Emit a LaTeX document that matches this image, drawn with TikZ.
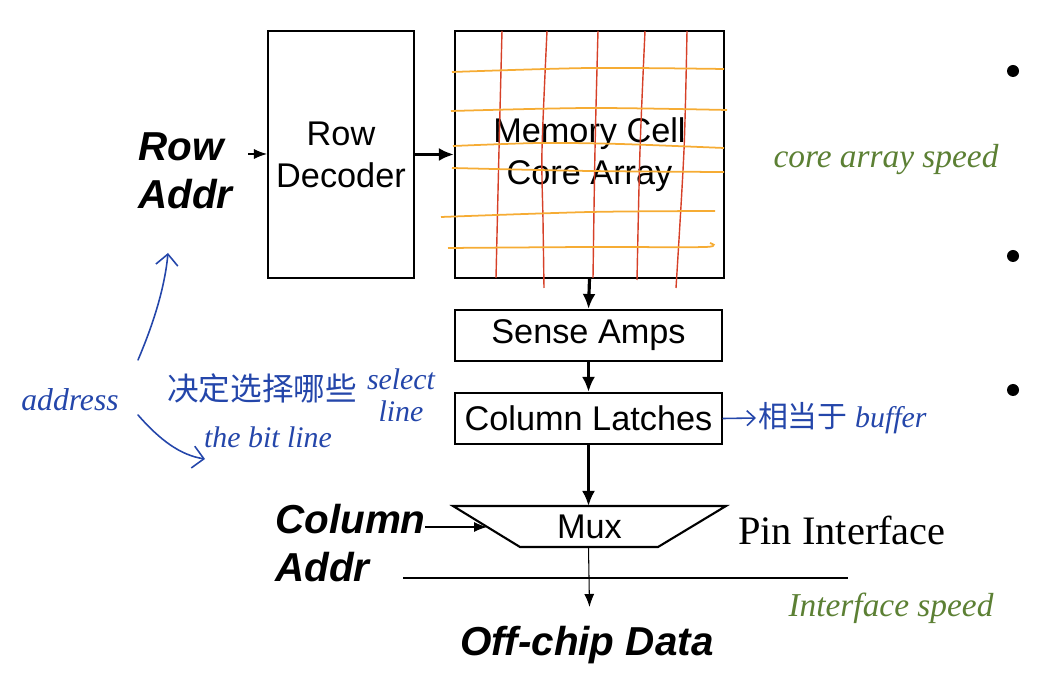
\documentclass[tikz,border=0pt]{standalone}
\usepackage{fontspec}
\setmainfont{Liberation Sans}
\newfontfamily\pinfont{Liberation Serif}
\newfontfamily\cjk{Noto Sans CJK SC}
\usetikzlibrary{arrows.meta}
\definecolor{inkblue}{RGB}{36,70,170}
\definecolor{inkgreen}{RGB}{92,128,52}
\definecolor{bitred}{RGB}{214,64,40}
\definecolor{wordorange}{RGB}{246,172,52}
\tikzset{
  block/.style={draw, line width=1.2pt, align=center, inner sep=0pt, font=\fontsize{19.5}{24}\selectfont},
  addr/.style={align=left, font=\fontsize{23}{27}\selectfont\bfseries\itshape},
  bus/.style={-{Latex[length=3mm,width=2.6mm]}, line width=1.8pt},
  wire/.style={-{Latex[length=2.6mm,width=2mm]}, line width=0.6pt},
  ink/.style={inkblue, font=\fontsize{17}{18}\selectfont\pinfont\itshape},
  greenink/.style={inkgreen, font=\fontsize{19}{21}\selectfont\pinfont\itshape},
  scrawl/.style={inkblue, line width=0.9pt, line cap=round, -{Straight Barb[length=2.2mm,width=4.4mm]}},
  bitline/.style={bitred, line width=0.8pt, smooth},
  wordline/.style={wordorange, line width=1pt, smooth}
}
\begin{document}
\begin{tikzpicture}
\useasboundingbox (0,0) rectangle (20.92,-13.52);
\node[block, minimum width=2.92cm, minimum height=4.94cm] (rowdec) at (6.82,-3.09) {Row\\Decoder};
\node[block, minimum width=5.38cm, minimum height=4.94cm] (memcell) at (11.79,-3.09) {Memory Cell\\Core Array};
\node[block, minimum width=5.34cm, minimum height=1.02cm] (sense) at (11.77,-6.71) {Sense Amps};
\node[block, minimum width=5.34cm, minimum height=1.02cm] (latches) at (11.77,-8.37) {Column Latches};
% mux trapezoid
\coordinate (muxtl) at (9.06,-10.12);
\coordinate (muxtr) at (14.52,-10.12);
\coordinate (muxbr) at (13.16,-10.94);
\coordinate (muxbl) at (10.40,-10.94);
\draw[line width=1.2pt] (muxtl) -- (muxtr) -- (muxbr) -- (muxbl) -- cycle;
\node[font=\fontsize{19.5}{24}\selectfont] (mux) at (11.79,-10.54) {Mux};
\node[addr, anchor=west] (rowaddr) at (2.64,-3.42) {Row\\Addr};
\node[addr, anchor=west] (coladdr) at (5.38,-10.86) {Column\\Addr};
\node[addr] (offchip) at (11.74,-12.9) {Off-chip Data};
\node[font=\fontsize{23}{27}\selectfont\pinfont] (pin) at (16.84,-10.6) {Pin Interface};
\coordinate (rowin) at (4.96,-3.08);
\coordinate (colin) at (8.5,-10.54);
\coordinate (muxin) at (9.74,-10.54);
\coordinate (dataout) at (11.79,-12.14);
\coordinate (pinl) at (8.06,-11.56);
\coordinate (pinr) at (16.96,-11.56);
\draw[wire] (rowin) -- (rowin -| rowdec.west);
\draw[bus] (rowdec.east) -- (memcell.west);
\draw[bus] (memcell.south) -- (sense.north);
\draw[bus] (sense.south) -- (latches.north);
\draw[bus] (latches.south) -- (latches.south |- muxtl);
\draw[wire] (colin) -- (muxin);
\draw[wire] (latches.south |- muxbl) -- (dataout);
\draw[line width=0.7pt] (pinl) -- (pinr);
% bit lines and word lines
\draw[bitline] plot coordinates {(10.04,-0.62) (9.98,-3.0) (9.92,-5.56)};
\draw[bitline] plot coordinates {(10.94,-0.62) (10.84,-3.0) (10.86,-4.4) (10.88,-5.76)};
\draw[bitline] plot coordinates {(11.96,-0.62) (11.9,-3.0) (11.86,-5.56)};
\draw[bitline] plot coordinates {(12.9,-0.62) (12.8,-3.0) (12.74,-5.6)};
\draw[bitline] plot coordinates {(13.74,-0.62) (13.68,-3.0) (13.52,-5.76)};
\draw[wordline] plot coordinates {(9.04,-1.44) (11.8,-1.36) (14.48,-1.38)};
\draw[wordline] plot coordinates {(9.02,-2.22) (11.8,-2.16) (14.54,-2.2)};
\draw[wordline] plot coordinates {(9.06,-2.92) (10.8,-2.86) (12.4,-2.88) (14.48,-2.96)};
\draw[wordline] plot coordinates {(9.04,-3.36) (11.8,-3.42) (14.48,-3.44)};
\draw[wordline] plot coordinates {(8.82,-4.34) (11.8,-4.24) (14.3,-4.22)};
\draw[wordline] plot coordinates {(8.96,-4.96) (11.8,-4.94) (14.1,-4.94) (14.2,-4.86)};
% notes
\node[ink, font=\fontsize{18}{20}\selectfont\pinfont\itshape] (address) at (1.4,-8.0) {address};
\node[ink, font=\fontsize{18}{20}\selectfont\cjk] (choose) at (5.24,-7.76) {决定选择哪些};
\node[ink, align=center] (select) at (8.02,-7.9) {select\\line};
\node[ink] (bitnote) at (5.36,-8.74) {the bit line};
\node[ink, anchor=west, inner sep=1pt] (bufnote) at (15.12,-8.36) {{\cjk 相当于} buffer};
\node[greenink] (corespeed) at (17.72,-3.2) {core array speed};
\node[greenink] (ifspeed) at (17.82,-12.16) {Interface speed};
\draw[scrawl] (2.76,-7.2) .. controls (3.1,-6.4) and (3.3,-5.7) .. (3.36,-5.06);
\draw[scrawl] (2.76,-8.3) .. controls (3.2,-8.8) and (3.6,-9.1) .. (4.1,-9.18);
\draw[scrawl, -{Straight Barb[length=1.6mm,width=3mm]}] (latches.east) -- (bufnote.west);
\fill (20.26,-1.42) circle (0.12);
\fill (20.26,-5.12) circle (0.12);
\fill (20.26,-7.8) circle (0.12);
\end{tikzpicture}
\end{document}
